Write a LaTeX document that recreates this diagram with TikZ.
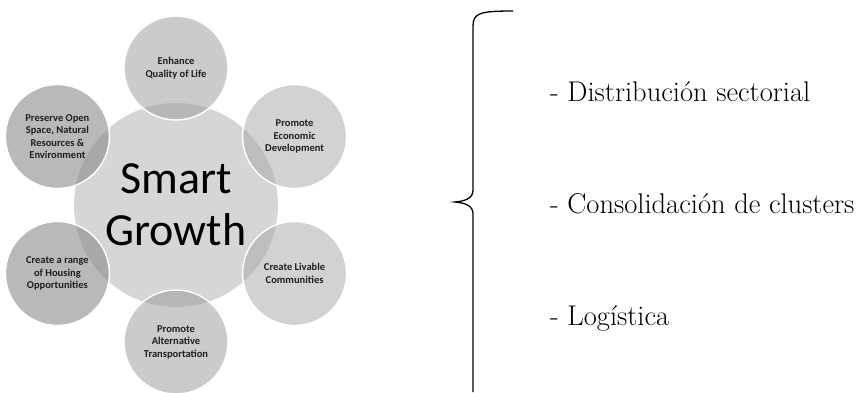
\documentclass[tikz,border=0pt]{standalone}
\usepackage{fontspec}
\setsansfont{Carlito}
\usepackage{tikz}
\usetikzlibrary{positioning}
\usetikzlibrary{calc}

\definecolor{hubfill}{gray}{0.84}
\definecolor{leftfill}{gray}{0.54}
\definecolor{topfill}{gray}{0.62}
\definecolor{rightfill}{gray}{0.65}
\definecolor{satext}{gray}{0.12}

\begin{document}
\begin{tikzpicture}[x=1pt,y=-1pt]
\tikzstyle{hubnode}=[circle,fill=hubfill,minimum size=204pt,inner sep=0pt,
	font=\sffamily\fontsize{46}{52}\selectfont,align=center]
\tikzstyle{sat}=[circle,draw=white,line width=1.4pt,minimum size=104pt,inner sep=0pt,
	font=\sffamily\bfseries\fontsize{10.5}{12.5}\selectfont,text=satext,align=center]
\tikzstyle{satleft}=[sat,fill=leftfill,fill opacity=0.6,text opacity=1]
\tikzstyle{sattop}=[sat,fill=topfill,fill opacity=0.54,text opacity=1]
\tikzstyle{satright}=[sat,fill=rightfill,fill opacity=0.5,text opacity=1]
\tikzstyle{item}=[anchor=base west,inner sep=0pt,font=\fontsize{28.5}{32}\selectfont]
\useasboundingbox (0,0) rectangle (859,392);
\node[hubnode] (hub) at (176,205) {Smart\\Growth};
\node[sattop] (sat1) at ($(hub)+(0,-137)$) {Enhance\\Quality of Life};
\node[satright] (sat2) at ($(hub)+(118.6,-68.5)$) {Promote\\Economic\\Development};
\node[satright] (sat3) at ($(hub)+(118.6,68.5)$) {Create Livable\\Communities};
\node[sattop] (sat4) at ($(hub)+(0,137)$) {Promote\\Alternative\\Transportation};
\node[satleft] (sat5) at ($(hub)+(-118.6,68.5)$) {Create a range\\of Housing\\Opportunities};
\node[satleft] (sat6) at ($(hub)+(-118.6,-68.5)$) {Preserve Open\\Space, Natural\\Resources \&\\Environment};
% brace
\draw[line width=1.3pt] (513,11) .. controls (480,11) and (473,13) .. (473,26)
	-- (473,190) .. controls (473,198) and (466,201) .. (455,202)
	.. controls (466,203) and (473,206) .. (473,214) -- (473,392);
\node[item] (it1) at (550,101) {- Distribución sectorial};
\node[item] (it2) at (550,213) {- Consolidación de clusters};
\node[item] (it3) at (550,325) {- Logística};
\end{tikzpicture}
\end{document}
